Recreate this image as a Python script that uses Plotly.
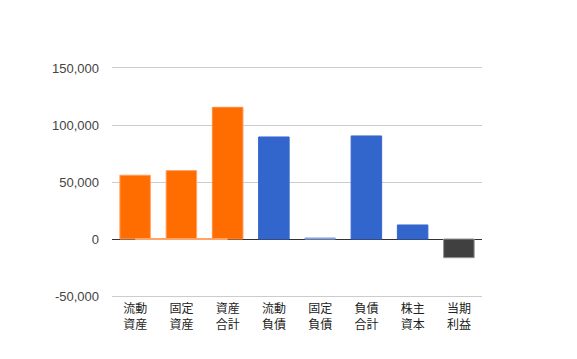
import plotly.graph_objects as go

categories = ["流動<br>資産", "固定<br>資産", "資産<br>合計", "流動<br>負債", "固定<br>負債", "負債<br>合計", "株主<br>資本", "当期<br>利益"]
values = [56000, 60000, 115500, 89500, 1000, 90400, 12300, -16400]
colors = ["#ff6d00", "#ff6d00", "#ff6d00", "#3366cc", "#3366cc", "#3366cc", "#3366cc", "#404040"]
line_colors = ["#ffa366", "#ffa366", "#ff8a3d", "#3366cc", "#a9bff0", "#3366cc", "#3366cc", "#909090"]
y_ticks = [-50000, 0, 50000, 100000, 150000]
y_tick_text = ["-50,000", "0", "50,000", "100,000", "150,000"]
asset_base = [0, 0, 0]

fig = go.Figure()
fig.add_trace(go.Scatter(
    x=categories[:3], y=asset_base, mode="lines",
    line=dict(color="#ffa366", width=2), hoverinfo="skip", showlegend=False,
))
fig.add_trace(go.Bar(
    x=categories, y=values,
    marker=dict(color=colors, line=dict(color=line_colors, width=1)),
    showlegend=False,
))

fig.update_layout(
    width=569, height=351,
    margin=dict(l=104, r=95, t=60, b=63, autoexpand=False),
    paper_bgcolor="white", plot_bgcolor="white",
    bargap=0.34,
    font=dict(family="Liberation Sans, Arial, Noto Sans CJK JP", size=13, color="#222222"),
)
fig.update_xaxes(
    showgrid=False, zeroline=False, automargin=False,
    showline=True, mirror=True, linecolor="#cccccc", linewidth=1,
    ticks="", ticklabelstandoff=2,
    tickfont=dict(family="Noto Sans CJK JP", size=12, color="#222222"),
)
fig.update_yaxes(
    range=[-50000, 150000], tickvals=y_ticks, ticktext=y_tick_text,
    showgrid=True, gridcolor="#cccccc", gridwidth=1, automargin=False,
    zeroline=True, zerolinecolor="#333333", zerolinewidth=1,
    showline=False, ticklabelstandoff=12,
    tickfont=dict(family="Liberation Sans, Arial", size=13, color="#444444"),
)

fig.write_html("out.html")
